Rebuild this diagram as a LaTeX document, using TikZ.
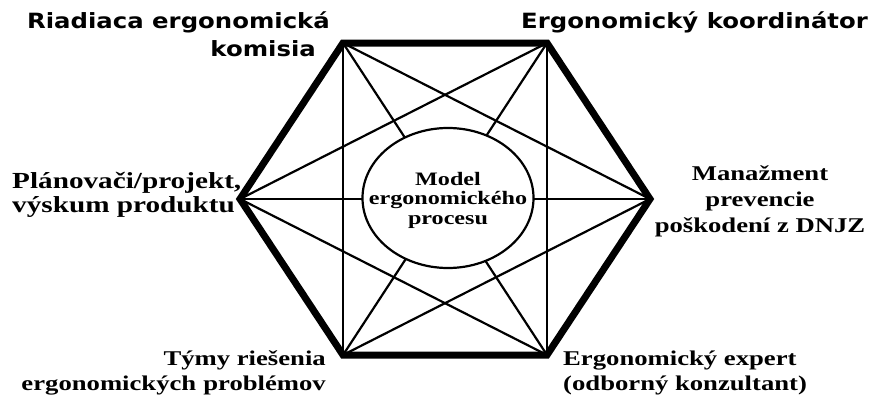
\documentclass[tikz,border=0pt]{standalone}
\usepackage{fontspec}
\usepackage{tikz}
\usetikzlibrary{shapes.geometric, positioning, calc}
\newfontfamily\rolefont{Liberation Serif}[FakeStretch=1.27]
\newfontfamily\headfont{DejaVu Sans}[FakeStretch=1.16]
\tikzstyle{link} = [line width=2.2pt]
\tikzstyle{rim} = [line width=7pt, line join=miter]
\tikzstyle{role} = [inner sep=0pt, font=\rolefont\bfseries\fontsize{21}{25}\selectfont]
\tikzstyle{head} = [inner sep=0pt, font=\headfont\bfseries\fontsize{21}{28}\selectfont]

\begin{document}
\begin{tikzpicture}[x=1pt, y=-1pt]
    \useasboundingbox (0,0) rectangle (873,399);

    % Corners of the hexagon
    \coordinate (tl) at (343,43);
    \coordinate (tr) at (547,43);
    \coordinate (r) at (650,199);
    \coordinate (br) at (547,355);
    \coordinate (bl) at (343,355);
    \coordinate (l) at (240,199);

    % Links between the corners
    \foreach \a/\b in {tl/r, tl/br, tl/bl, tr/br, tr/bl, tr/l, r/bl, r/l, br/l} {
        \draw[link] (\a) -- (\b);
    }

    % Hexagon
    \draw[rim] (tl) -- (tr) -- (r) -- (br) -- (bl) -- (l) -- cycle;

    % Model in the middle
    \node (model) [ellipse, draw, link, fill=white, minimum width=171pt, minimum height=140pt, inner sep=0pt] at (448,198) {};
    \node (modeltext) [align=center, inner sep=0pt, font=\rolefont\bfseries\fontsize{19}{19.5}\selectfont]
        at ([yshift=-2pt]model.center) {Model\\ergonomického\\procesu};

    % Labels
    \node (board) [head, anchor=base east, align=right] at (330,56) {Riadiaca ergonomická\\komisia\hspace*{14pt}};
    \node (coord) [head, anchor=base east] at (868,28) {Ergonomický koordinátor};
    \node (plan) [role, anchor=base west, align=left, font=\rolefont\bfseries\fontsize{23}{24}\selectfont] at (12,212) {Plánovači/projekt,\\výskum produktu};
    \node (prev) [role, anchor=base, align=center, font=\rolefont\bfseries\fontsize{21}{26}\selectfont] at (760,232) {Manažment\\prevencie\\poškodení z DNJZ};
    \node (teams) [role, anchor=base east, align=right] at (326,390) {Týmy riešenia\\ergonomických\hspace{7pt}problémov};
    \node (expert) [role, anchor=base west, align=left] at (563,390) {Ergonomický expert\\(odborný konzultant)};
\end{tikzpicture}
\end{document}
